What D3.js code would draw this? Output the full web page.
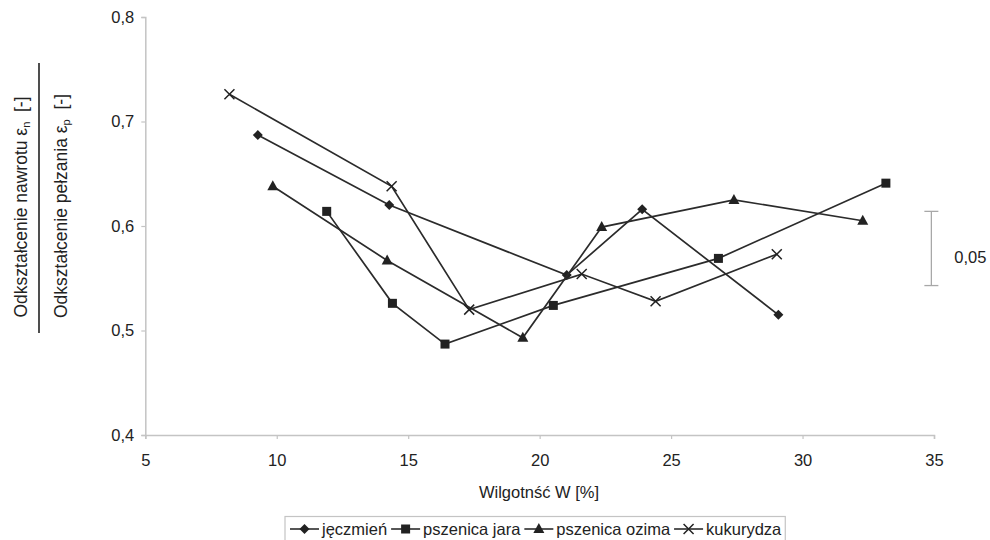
<!DOCTYPE html>
<html>
<head>
<meta charset="utf-8">
<script src="https://cdn.jsdelivr.net/npm/d3@7"></script>
<style>
  body { margin: 0; background: #fff; }
  text { font-family: "Liberation Sans", Arial, sans-serif; fill: #222; }
</style>
</head>
<body>
<div id="chart-area"></div>
<script>
// data
var seriesNames = ["jęczmień", "pszenica jara", "pszenica ozima", "kukurydza"];
var jeczmienX = [9.28, 14.28, 21.03, 23.9, 29.08];
var jeczmienY = [0.687, 0.620, 0.553, 0.616, 0.515];
var jaraX = [11.9, 14.4, 16.4, 20.52, 26.8, 33.17];
var jaraY = [0.614, 0.526, 0.487, 0.524, 0.569, 0.641];
var ozimaX = [9.85, 14.2, 19.36, 22.36, 27.39, 32.29];
var ozimaY = [0.638, 0.567, 0.493, 0.599, 0.625, 0.605];
var kukurydzaX = [8.2, 14.37, 17.32, 21.6, 24.41, 29.02];
var kukurydzaY = [0.726, 0.638, 0.520, 0.554, 0.528, 0.573];
var xTicks = [5, 10, 15, 20, 25, 30, 35];
var yTicks = [0.4, 0.5, 0.6, 0.7, 0.8];
var errX = 34.9, errTop = 0.614, errBottom = 0.543, errLabel = "0,05";

var seriesX = [jeczmienX, jaraX, ozimaX, kukurydzaX];
var seriesY = [jeczmienY, jaraY, ozimaY, kukurydzaY];
var markers = ["diamond", "square", "triangle", "cross"];

var width = 990, height = 540;
var plotLeft = 145.3, plotRight = 934, plotTop = 17, plotBottom = 435;

var svg = d3.select("#chart-area").append("svg")
	.attr("width", width)
	.attr("height", height);

var x = d3.scaleLinear().domain([5, 35]).range([plotLeft, plotRight]);
var y = d3.scaleLinear().domain([0.4, 0.8]).range([plotBottom, plotTop]);

var comma = function(s) { return s.replace(".", ","); };

// axes
var xAxis = svg.append("g")
	.attr("transform", "translate(0," + plotBottom + ")")
	.call(d3.axisBottom(x).tickValues(xTicks).tickSize(4).tickPadding(15).tickFormat(d3.format("d")));
var yAxis = svg.append("g")
	.attr("transform", "translate(" + plotLeft + ",0)")
	.call(d3.axisLeft(y).tickValues(yTicks).tickSize(4).tickPadding(7)
		.tickFormat(function(d) { return comma(d3.format(".1f")(d)); }));

[xAxis, yAxis].forEach(function(a) {
	a.select(".domain").attr("stroke", "#c4c4c4").attr("stroke-width", 1.5);
	a.selectAll(".tick line").attr("stroke", "#c4c4c4").attr("stroke-width", 1.2);
	a.selectAll(".tick text").attr("font-size", 16.5).attr("fill", "#222")
		.attr("font-family", "Liberation Sans, Arial, sans-serif");
});

// axis titles
svg.append("text")
	.attr("x", 539)
	.attr("y", 498)
	.attr("text-anchor", "middle")
	.attr("font-size", 16.5)
	.text("Wilgotnść W [%]");

var yl1 = svg.append("text")
	.attr("transform", "translate(27,207) rotate(-90)")
	.attr("text-anchor", "middle")
	.attr("font-size", 17.5);
yl1.append("tspan").text("Odkształcenie nawrotu ε");
yl1.append("tspan").attr("font-size", 11).attr("dy", 3).text("n");
yl1.append("tspan").attr("dy", -3).text("\u00a0 [-]");

svg.append("line")
	.attr("x1", 39).attr("x2", 39)
	.attr("y1", 63).attr("y2", 333)
	.attr("stroke", "#222").attr("stroke-width", 1.6);

var yl2 = svg.append("text")
	.attr("transform", "translate(67,206) rotate(-90)")
	.attr("text-anchor", "middle")
	.attr("font-size", 17.5);
yl2.append("tspan").text("Odkształcenie pełzania ε");
yl2.append("tspan").attr("font-size", 11).attr("dy", 3).text("p");
yl2.append("tspan").attr("dy", -3).text("\u00a0 [-]");

// marker drawing
function drawMarker(g, type, cx, cy) {
	if (type === "diamond") {
		g.append("path").attr("d", "M" + cx + "," + (cy - 5) + "L" + (cx + 5) + "," + cy + "L" + cx + "," + (cy + 5) + "L" + (cx - 5) + "," + cy + "Z")
			.attr("fill", "#222");
	} else if (type === "square") {
		g.append("rect").attr("x", cx - 4.5).attr("y", cy - 4.5).attr("width", 9).attr("height", 9)
			.attr("fill", "#222");
	} else if (type === "triangle") {
		g.append("path").attr("d", "M" + cx + "," + (cy - 6) + "L" + (cx + 5.5) + "," + (cy + 4) + "L" + (cx - 5.5) + "," + (cy + 4) + "Z")
			.attr("fill", "#222");
	} else {
		g.append("path").attr("d", "M" + (cx - 5) + "," + (cy - 5) + "L" + (cx + 5) + "," + (cy + 5) + "M" + (cx + 5) + "," + (cy - 5) + "L" + (cx - 5) + "," + (cy + 5))
			.attr("stroke", "#222").attr("stroke-width", 1.5).attr("fill", "none");
	}
}

var line = d3.line().x(function(d) { return x(d[0]); }).y(function(d) { return y(d[1]); });

seriesNames.forEach(function(name, i) {
	var pts = d3.zip(seriesX[i], seriesY[i]);
	var g = svg.append("g");
	g.append("path")
		.attr("d", line(pts))
		.attr("fill", "none")
		.attr("stroke", "#2b2b2b")
		.attr("stroke-width", 1.7);
	pts.forEach(function(p) { drawMarker(g, markers[i], x(p[0]), y(p[1])); });
});

// scale bar on the right
var eg = svg.append("g").attr("stroke", "#a8a8a8").attr("stroke-width", 1.3);
eg.append("line").attr("x1", x(errX)).attr("x2", x(errX)).attr("y1", y(errTop)).attr("y2", y(errBottom));
eg.append("line").attr("x1", x(errX) - 7).attr("x2", x(errX) + 7).attr("y1", y(errTop)).attr("y2", y(errTop));
eg.append("line").attr("x1", x(errX) - 7).attr("x2", x(errX) + 7).attr("y1", y(errBottom)).attr("y2", y(errBottom));
svg.append("text")
	.attr("x", x(errX) + 23)
	.attr("y", (y(errTop) + y(errBottom)) / 2 + 15)
	.attr("font-size", 16.5)
	.text(errLabel);

// legend
var legend = svg.append("g");
var box = legend.append("rect")
	.attr("y", 516.5).attr("height", 30)
	.attr("fill", "#fff").attr("stroke", "#c4c4c4").attr("stroke-width", 1.2);
var lx = 290, ly = 529;
seriesNames.forEach(function(name, i) {
	legend.append("line").attr("x1", lx).attr("x2", lx + 29).attr("y1", ly).attr("y2", ly)
		.attr("stroke", "#2b2b2b").attr("stroke-width", 1.6);
	drawMarker(legend, markers[i], lx + 14.5, ly);
	var t = legend.append("text").attr("x", lx + 32).attr("y", ly + 5.5).attr("font-size", 16.5).text(name);
	lx += 32 + t.node().getComputedTextLength() + 4;
});
box.attr("x", 285).attr("width", lx - 285);
</script>
</body>
</html>
